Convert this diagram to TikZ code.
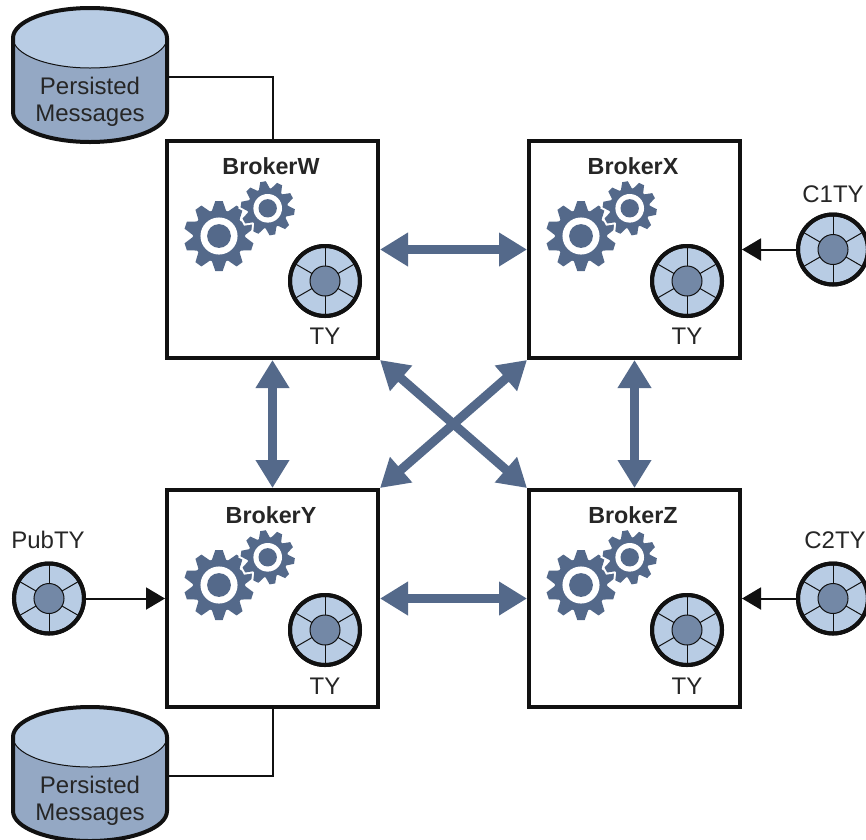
\documentclass[tikz,border=0pt]{standalone}
\usepackage{fontspec}
\setmainfont{Liberation Sans}
\usetikzlibrary{arrows.meta}
\definecolor{slate}{HTML}{54698A}
\definecolor{paleblue}{HTML}{B8CCE4}
\definecolor{midblue}{HTML}{94A8C4}
\definecolor{hubblue}{HTML}{7388A6}
\definecolor{inkblack}{HTML}{111111}
\tikzset{
  broker/.style={draw=inkblack,line width=4pt,fill=white,minimum width=211pt,minimum height=217pt,inner sep=0pt},
  label/.style={font=\fontsize{24}{28}\selectfont,text=black!85,inner sep=0pt},
  title/.style={font=\fontsize{23.3}{27}\selectfont\bfseries,text=black!85,inner sep=0pt},
  wheel/.style={circle,draw=inkblack,line width=4pt,fill=paleblue,minimum size=70pt,inner sep=0pt},
  link/.style={draw=slate,line width=9pt,{Triangle[length=28pt,width=32pt]}-{Triangle[length=28pt,width=32pt]}},
  feed/.style={draw=inkblack,line width=2pt,-{Triangle[length=19pt,width=22pt]}},
  wire/.style={draw=inkblack,line width=2pt},
  cyl/.style={minimum width=154pt,minimum height=138pt,inner sep=0pt,align=center,font=\fontsize{24}{27}\selectfont,text=black!85}
}
\newcommand{\toothpath}[2]{(-0.21*#1,-0.70*#1) -- (-0.105*#1,-#1) -- (0.105*#1,-#1) -- (0.21*#1,-0.70*#1) -- cycle}
\newcommand{\gearat}[5]{% x y outer rotation halo-width
  \ifdim #5pt>0pt
    \foreach \a in {0,36,...,324}{
      \draw[white,line width=#5pt,shift={(#1,#2)},rotate=\a+#4] \toothpath{#3}{};
    }
    \draw[white,line width=#5pt] (#1,#2) circle[radius=0.75*#3];
  \fi
  \foreach \a in {0,36,...,324}{
    \fill[slate,shift={(#1,#2)},rotate=\a+#4] \toothpath{#3}{};
  }
  \fill[slate] (#1,#2) circle[radius=0.75*#3];
  \fill[white] (#1,#2) circle[radius=0.53*#3];
  \fill[slate] (#1,#2) circle[radius=0.34*#3];
}
\newcommand{\gearpair}[2]{%
  \begin{scope}[shift={(#1,#2)}]
    \gearat{-53.5}{-13.5}{35}{0}{0}
    \gearat{-4.8}{-41.2}{27}{10}{4}
  \end{scope}
}
\newcommand{\wheelat}[1]{%
  \foreach \a in {30,90,...,330}{\draw[inkblack,line width=1pt] (#1.center) -- ++(\a:35);}
  \fill[hubblue] (#1.center) circle[radius=15];
  \draw[inkblack,line width=1pt] (#1.center) circle[radius=15];
  \draw[inkblack,line width=4pt] (#1.center) circle[radius=35];
}
\newcommand{\cylinderat}[2]{%
  \begin{scope}[shift={(#1,#2)}]
    \fill[midblue] (-77,-39) -- (-77,35) arc[start angle=180,end angle=0,x radius=77,y radius=30] -- (77,-39) -- cycle;
    \fill[paleblue] (0,-39) ellipse[x radius=77,y radius=30];
    \draw[inkblack,line width=1pt] (-77,-39) arc[start angle=180,end angle=0,x radius=77,y radius=30];
    \draw[inkblack,line width=4pt] (-77,-39) -- (-77,35) arc[start angle=180,end angle=0,x radius=77,y radius=30] -- (77,-39) arc[start angle=0,end angle=-180,x radius=77,y radius=30];
  \end{scope}
}
\begin{document}
\begin{tikzpicture}[x=1pt,y=-1pt]
\useasboundingbox (0,0) rectangle (866,839);
\clip (0,0) rectangle (866,839);

\node[cyl] (cylA) at (90,77) {};
\node[cyl] (cylB) at (90,776) {};
\node[broker] (W) at (272.5,249.5) {};
\node[broker] (X) at (634.5,249.5) {};
\node[broker] (Y) at (272.5,598.5) {};
\node[broker] (Z) at (634.5,598.5) {};

\draw[wire] (cylA.east) -| (W.north);
\draw[wire] (cylB.east) -| (Y.south);
\cylinderat{90}{77}
\cylinderat{90}{776}
\node[cyl,minimum height=0pt] (cylAtext) at (90,102) {Persisted\\Messages};
\node[cyl,minimum height=0pt] (cylBtext) at (90,800.5) {Persisted\\Messages};

\node[title] (tW) at (271,166) {BrokerW};
\node[title] (tX) at (633,166) {BrokerX};
\node[title] (tY) at (271,515) {BrokerY};
\node[title] (tZ) at (633,515) {BrokerZ};

\gearpair{272.5}{249.5}
\gearpair{634.5}{249.5}
\gearpair{272.5}{598.5}
\gearpair{634.5}{598.5}

\node[wheel] (wW) at (325,281) {};
\node[wheel] (wX) at (687,281) {};
\node[wheel] (wY) at (325,630) {};
\node[wheel] (wZ) at (687,630) {};
\node[wheel] (wC1) at (833,249.5) {};
\node[wheel] (wC2) at (833,598.5) {};
\node[wheel] (wP) at (49,598.5) {};
\foreach \n in {wW,wX,wY,wZ,wC1,wC2,wP}{\wheelat{\n}}

\node[label] (lW) at (325,336) {TY};
\node[label] (lX) at (687,336) {TY};
\node[label] (lY) at (325,686) {TY};
\node[label] (lZ) at (687,686) {TY};
\node[label] (lC1) at (833,194) {C1TY};
\node[label] (lC2) at (835,540) {C2TY};
\node[label] (lP) at (48,540) {PubTY};

\draw[link] (W.east) -- (X.west);
\draw[link] (Y.east) -- (Z.west);
\draw[link] (W.south) -- (Y.north);
\draw[link] (X.south) -- (Z.north);
\draw[link] (W.south east) -- (Z.north west);
\draw[link] (X.south west) -- (Y.north east);

\draw[feed] (wC1.west) -- (X.east);
\draw[feed] (wC2.west) -- (Z.east);
\draw[feed] (wP.east) -- (Y.west);
\end{tikzpicture}
\end{document}
